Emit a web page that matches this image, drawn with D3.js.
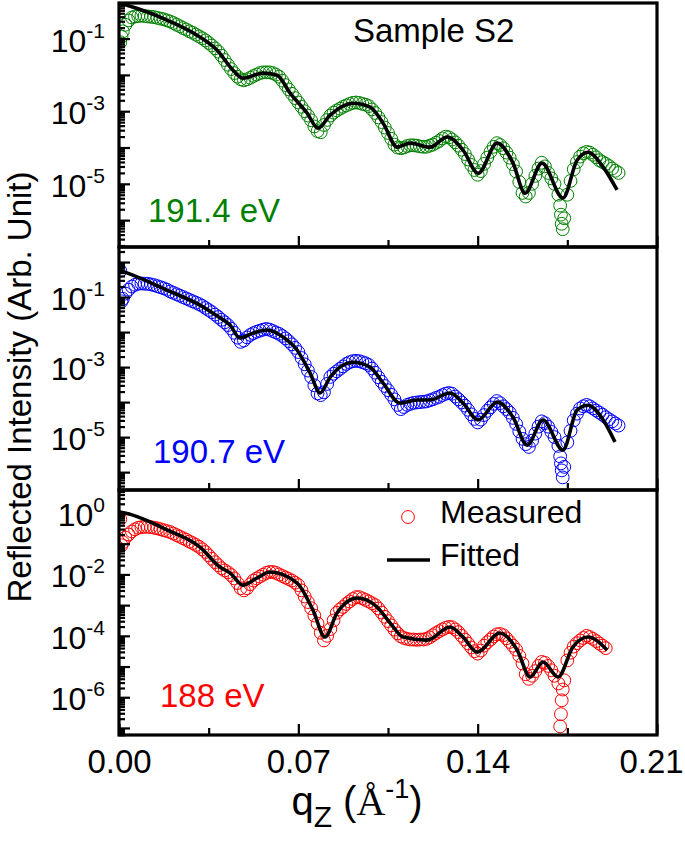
<!DOCTYPE html>
<html><head><meta charset="utf-8">
<script src="https://cdn.jsdelivr.net/npm/d3@7"></script>
<style>body{margin:0;background:#fff}svg{display:block}</style>
</head><body>
<svg id="c" width="685" height="843"></svg>
<script>
// ---------- DATA (intensities given as log10 values) ----------
const qMeasured = [0.0005,0.0010,0.0015,0.0025,0.0050,0.0075,0.0100,0.0125,0.0150,0.0175,
  0.0200,0.0225,0.0250,0.0275,0.0300,0.0325,0.0350,0.0375,0.0400,0.0425,
  0.0450,0.0475,0.0500,0.0525,0.0550,0.0575,0.0600,0.0625,0.0650,0.0675,
  0.0700,0.0725,0.0750,0.0775,0.0800,0.0825,0.0850,0.0875,0.0900,0.0925,
  0.0950,0.0975,0.1000,0.1025,0.1050,0.1075,0.1100,0.1125,0.1150,0.1175,
  0.1200,0.1225,0.1250,0.1275,0.1300,0.1325,0.1350,0.1375,0.1400,0.1425,
  0.1450,0.1475,0.1500,0.1525,0.1550,0.1575,0.1600,0.1625,0.1650,0.1675,
  0.1700,0.1715,0.1722,0.1725,0.1728,0.1732,0.1738,0.1750,0.1775,0.1800,
  0.1825,0.1850,0.1875,0.1900,0.1925,0.1950];

const measured1914 = [-1.10,-0.95,-0.80,-0.62,-0.42,-0.38,-0.38,-0.40,-0.43,-0.47,
  -0.53,-0.62,-0.71,-0.80,-0.89,-0.99,-1.12,-1.27,-1.47,-1.72,
  -1.95,-2.12,-2.12,-2.03,-1.95,-1.93,-1.95,-2.05,-2.28,-2.52,
  -2.76,-3.00,-3.25,-3.55,-3.38,-3.12,-2.98,-2.88,-2.80,-2.76,
  -2.80,-2.86,-3.05,-3.30,-3.60,-3.92,-4.02,-3.96,-3.94,-3.97,
  -3.98,-3.92,-3.82,-3.70,-3.78,-3.95,-4.18,-4.48,-4.75,-4.45,
  -4.12,-3.88,-4.02,-4.28,-4.66,-5.25,-5.25,-4.78,-4.42,-4.70,
  -5.00,-5.30,-5.60,-5.85,-6.10,-6.25,-5.95,-5.30,-4.60,-4.25,
  -4.12,-4.20,-4.35,-4.45,-4.58,-4.70];

const measured1907 = [-0.25,-1.12,-1.05,-0.90,-0.70,-0.62,-0.62,-0.64,-0.69,-0.75,
  -0.84,-0.92,-1.00,-1.08,-1.16,-1.25,-1.37,-1.50,-1.65,-1.80,
  -2.02,-2.28,-2.15,-2.03,-1.96,-1.91,-1.97,-2.05,-2.18,-2.35,
  -2.57,-2.92,-3.28,-3.75,-3.72,-3.28,-3.12,-2.98,-2.86,-2.82,
  -2.86,-2.94,-3.16,-3.42,-3.66,-3.92,-4.20,-4.08,-4.02,-4.00,
  -3.98,-3.92,-3.85,-3.76,-3.76,-3.92,-4.10,-4.35,-4.58,-4.37,
  -4.15,-3.97,-4.12,-4.30,-4.62,-5.05,-5.28,-4.90,-4.55,-4.70,
  -5.00,-5.25,-5.55,-5.75,-5.95,-6.15,-5.85,-5.15,-4.52,-4.18,
  -4.08,-4.18,-4.30,-4.43,-4.55,-4.67];

const measured188 = [-0.20,-1.05,-0.95,-0.80,-0.60,-0.48,-0.45,-0.46,-0.50,-0.56,
  -0.62,-0.72,-0.82,-0.93,-1.04,-1.18,-1.38,-1.60,-1.80,-1.93,
  -2.13,-2.45,-2.45,-2.20,-2.07,-1.95,-1.92,-2.00,-2.10,-2.20,
  -2.35,-2.72,-3.10,-3.60,-4.15,-3.78,-3.25,-3.06,-2.88,-2.74,
  -2.78,-2.88,-3.00,-3.24,-3.52,-3.80,-4.02,-4.10,-4.12,-4.12,
  -4.10,-3.98,-3.85,-3.74,-3.72,-3.88,-4.12,-4.38,-4.58,-4.32,
  -4.12,-3.95,-3.98,-4.20,-4.45,-4.90,-5.40,-5.15,-4.85,-4.98,
  -5.30,-5.55,-6.95,-6.55,-6.10,-5.75,-5.45,-4.80,-4.35,-4.15,
  -4.00,-4.10,-4.25,-4.40,null,null];

// second set of measured points, lying between the points above
const qMeasuredMid = [0.00375,0.00625,0.00875,0.01125,0.01375,0.01625,0.01875,0.02125,0.02375,0.02625,
  0.02875,0.03125,0.03375,0.03625,0.03875,0.04125,0.04375,0.04625,0.04875,0.05125,
  0.05375,0.05625,0.05875,0.06125,0.06375,0.06625,0.06875,0.07125,0.07375,0.07625,
  0.07875,0.08125,0.08375,0.08625,0.08875,0.09125,0.09375,0.09625,0.09875,0.10125,
  0.10375,0.10625,0.10875,0.11125,0.11375,0.11625,0.11875,0.12125,0.12375,0.12625,
  0.12875,0.13125,0.13375,0.13625,0.13875,0.14125,0.14375,0.14625,0.14875,0.15125,
  0.15375,0.15625,0.15875,0.16125,0.16375,0.16625,0.16875,0.17625,0.17875,0.18125,
  0.18375,0.18625,0.18875,0.19125,0.19375];

const measuredMid1914 = [-0.50,-0.39,-0.37,-0.39,-0.41,-0.45,-0.50,-0.57,-0.66,-0.75,
  -0.84,-0.94,-1.05,-1.19,-1.36,-1.59,-1.84,-2.05,-2.15,-2.08,
  -1.99,-1.93,-1.93,-1.99,-2.16,-2.40,-2.64,-2.88,-3.12,-3.42,
  -3.58,-3.24,-3.04,-2.93,-2.84,-2.77,-2.77,-2.82,-2.95,-3.17,
  -3.45,-3.76,-4.00,-4.00,-3.94,-3.95,-3.98,-3.95,-3.87,-3.75,
  -3.72,-3.86,-4.06,-4.33,-4.62,-4.65,-4.28,-3.98,-3.93,-4.14,
  -4.46,-4.95,-5.35,-5.00,-4.58,-4.52,-4.85,-4.92,-4.40,-4.16,
  -4.14,-4.27,-4.40,-4.51,-4.64];

const measuredMid1907 = [-0.79,-0.65,-0.61,-0.62,-0.66,-0.72,-0.79,-0.88,-0.96,-1.04,
  -1.12,-1.20,-1.31,-1.43,-1.57,-1.72,-1.90,-2.16,-2.24,-2.08,
  -1.99,-1.93,-1.93,-2.01,-2.11,-2.26,-2.45,-2.74,-3.10,-3.52,
  -3.80,-3.48,-3.19,-3.05,-2.91,-2.83,-2.83,-2.89,-3.04,-3.29,
  -3.54,-3.79,-4.08,-4.14,-4.05,-4.01,-3.99,-3.95,-3.88,-3.80,
  -3.74,-3.84,-4.01,-4.22,-4.48,-4.50,-4.25,-4.05,-4.03,-4.20,
  -4.45,-4.84,-5.20,-5.10,-4.70,-4.60,-4.85,-4.82,-4.33,-4.12,
  -4.12,-4.24,-4.36,-4.49,-4.61];

const measuredMid188 = [-0.70,-0.53,-0.46,-0.45,-0.48,-0.53,-0.59,-0.67,-0.77,-0.87,
  -0.98,-1.10,-1.27,-1.49,-1.70,-1.87,-2.02,-2.28,-2.52,-2.32,
  -2.13,-2.01,-1.92,-1.95,-2.05,-2.15,-2.27,-2.52,-2.90,-3.34,
  -3.90,-4.00,-3.50,-3.14,-2.96,-2.80,-2.74,-2.83,-2.94,-3.11,
  -3.38,-3.66,-3.92,-4.07,-4.12,-4.13,-4.12,-4.05,-3.91,-3.79,
  -3.71,-3.79,-4.00,-4.25,-4.50,-4.48,-4.21,-4.02,-3.94,-4.08,
  -4.32,-4.65,-5.25,-5.30,-4.98,-4.88,-5.12,-4.55,-4.24,-4.07,
  -4.04,-4.17,-4.32,null,null];

const fitQ1914 = [0,0.0031,0.0187,0.0316,0.0383,0.0445,0.0484,0.0562,0.0617,0.0668,0.0734,0.0777,0.0824,0.0914,0.0980,0.1031,0.1086,0.1136,0.1214,0.1281,0.1343,0.1402,0.1476,0.1538,0.1585,0.1651,0.1733,0.1788,0.1831,0.1890,0.1944];
const fit1914 = [-0.02,-0.08,-0.49,-0.96,-1.32,-1.87,-2.09,-1.95,-2.01,-2.50,-3.05,-3.47,-3.11,-2.78,-2.89,-3.33,-3.99,-3.88,-3.99,-3.71,-4.07,-4.71,-3.88,-4.43,-5.26,-4.43,-5.39,-4.35,-4.13,-4.54,-5.17];

const fitQ1907 = [0,0.0031,0.0187,0.0316,0.0383,0.0433,0.0472,0.0523,0.0578,0.0640,0.0695,0.0746,0.0785,0.0824,0.0914,0.0980,0.1031,0.1097,0.1163,0.1214,0.1292,0.1343,0.1402,0.1476,0.1538,0.1593,0.1655,0.1733,0.1788,0.1831,0.1890,0.1936];
const fit1907 = [-0.23,-0.31,-0.80,-1.23,-1.54,-1.80,-2.17,-2.03,-1.94,-2.14,-2.51,-3.17,-3.74,-3.29,-2.86,-3.00,-3.46,-4.03,-3.94,-3.94,-3.74,-4.03,-4.51,-4.00,-4.43,-5.23,-4.51,-5.37,-4.23,-4.09,-4.51,-5.14];

const fitQ188 = [0,0.0023,0.0187,0.0316,0.0394,0.0433,0.0484,0.0538,0.0589,0.0695,0.0757,0.0804,0.0851,0.0929,0.1007,0.1058,0.1109,0.1202,0.1292,0.1343,0.1398,0.1487,0.1554,0.1605,0.1655,0.1714,0.1772,0.1831,0.1905];
const fit188 = [0.03,0.00,-0.55,-1.11,-1.76,-1.95,-2.35,-2.12,-1.92,-2.28,-3.16,-4.04,-3.26,-2.77,-3.06,-3.58,-4.04,-4.14,-3.71,-4.04,-4.53,-3.91,-4.46,-5.34,-4.85,-5.34,-4.36,-4.04,-4.46];

const energyLabels = ["191.4 eV","190.7 eV","188 eV"];
const yTickExponents = [[-1,-3,-5],[-1,-3,-5],[0,-2,-4,-6]];
const xMajorTicks = [0,0.07,0.14,0.21];
const xMinorTicks = [0.035,0.105,0.175];
const yDomainsLog = [[-6.74,-0.02],[-6.51,0.43],[-7.23,0.75]];
const legendLabels = ["Measured","Fitted"];
const sampleTitle = "Sample S2";

// ---------- LAYOUT ----------
const svg = d3.select("#c");
const FONT = "'Liberation Sans', Arial, Helvetica, sans-serif";
const L = 119, R = 657;
const panelBounds = [[3,247],[247,490],[490,735]];
const colors = ["#008000","#0000ff","#ff0000"];
const labelPos = [[148,222],[153,463],[160,707]];
const measuredSets = [measured1914, measured1907, measured188];
const measuredMidSets = [measuredMid1914, measuredMid1907, measuredMid188];
const fitQs = [fitQ1914, fitQ1907, fitQ188];
const fits = [fit1914, fit1907, fit188];

const x = d3.scaleLinear().domain([0,0.21]).range([L,R]);

panelBounds.forEach(([top,bottom],i)=>{
  const dom = yDomainsLog[i];
  const y = d3.scaleLog().domain([Math.pow(10,dom[0]),Math.pow(10,dom[1])]).range([bottom,top]);
  const g = svg.append("g");
  const clipId = "clip"+i;
  svg.append("clipPath").attr("id",clipId).append("rect")
    .attr("x",L).attr("y",top).attr("width",R-L).attr("height",bottom-top);
  const plot = g.append("g").attr("clip-path",`url(#${clipId})`);

  // measured circles
  const pts = qMeasured.map((q,k)=>({q, v: measuredSets[i][k]}))
    .concat(qMeasuredMid.map((q,k)=>({q, v: measuredMidSets[i][k]})))
    .filter(d=>d.v!==null)
    .sort((a,b)=>a.q-b.q);
  plot.selectAll("circle").data(pts).enter().append("circle")
    .attr("cx",d=>x(d.q)).attr("cy",d=>y(Math.pow(10,d.v)))
    .attr("r",6.4).attr("fill","none").attr("stroke",colors[i]).attr("stroke-width",1);

  // fitted line
  const fitData = fitQs[i].map((q,k)=>({q, v: fits[i][k]}));
  plot.append("path").datum(fitData)
    .attr("d", d3.line().x(d=>x(d.q)).y(d=>y(Math.pow(10,d.v))).curve(d3.curveMonotoneX))
    .attr("fill","none").attr("stroke","#000").attr("stroke-width",3.6).attr("stroke-linejoin","round");

  // y ticks (inward)
  const lo = Math.floor(dom[0]), hi = Math.ceil(dom[1]);
  const majors = [], minors = [];
  for(let e=lo;e<=hi;e++){
    for(let m=1;m<=9;m++){
      const lv = e + Math.log10(m);
      if(lv < dom[0] || lv > dom[1]) continue;
      (m===1?majors:minors).push(m*Math.pow(10,e));
    }
  }
  const yMin = g.append("g").attr("transform",`translate(${L},0)`)
    .call(d3.axisLeft(y).tickValues(minors).tickSize(-6).tickFormat(""));
  const yMaj = g.append("g").attr("transform",`translate(${L},0)`)
    .call(d3.axisLeft(y).tickValues(majors).tickSize(-11).tickFormat(""));
  [yMin,yMaj].forEach(a=>{a.select(".domain").remove(); a.selectAll("line").attr("stroke","#000").attr("stroke-width",2.2);});

  // y tick labels
  yTickExponents[i].forEach(e=>{
    const yy = y(Math.pow(10,e));
    const t = g.append("text").attr("x",105).attr("y",yy+13).attr("text-anchor","end")
      .attr("font-family",FONT).attr("font-size",32).attr("fill","#000");
    t.append("tspan").text("10");
    t.append("tspan").attr("dy",-14).attr("font-size",21).text(String(e));
  });

  // x ticks (inward, at bottom of each panel)
  const xMin = g.append("g").attr("transform",`translate(0,${bottom})`)
    .call(d3.axisBottom(x).tickValues(xMinorTicks).tickSize(-7).tickFormat(""));
  const xMaj = g.append("g").attr("transform",`translate(0,${bottom})`)
    .call(d3.axisBottom(x).tickValues(xMajorTicks).tickSizeInner(-11).tickSizeOuter(0)
      .tickPadding(15).tickFormat(i===2 ? d3.format(".2f") : ""));
  [xMin,xMaj].forEach(a=>{a.select(".domain").remove(); a.selectAll("line").attr("stroke","#000").attr("stroke-width",2.2);});
  xMaj.selectAll("text").attr("font-family",FONT).attr("font-size",33).attr("fill","#000")
    .attr("dx",d=>d===0.21?-6:0);

  // frame
  g.append("rect").attr("x",L).attr("y",top).attr("width",R-L).attr("height",bottom-top)
    .attr("fill","none").attr("stroke","#000").attr("stroke-width",3.2);

  // energy label
  g.append("text").attr("x",labelPos[i][0]).attr("y",labelPos[i][1])
    .attr("font-family",FONT).attr("font-size",33).attr("fill",colors[i]).text(energyLabels[i]);
});

// sample title
svg.append("text").attr("x",353).attr("y",42).attr("font-family",FONT).attr("font-size",33)
  .attr("fill","#000").text(sampleTitle);

// legend
svg.append("circle").attr("cx",408).attr("cy",517).attr("r",6.4).attr("fill","none")
  .attr("stroke",colors[2]).attr("stroke-width",1);
svg.append("text").attr("x",440).attr("y",523).attr("font-family",FONT).attr("font-size",32).text(legendLabels[0]);
svg.append("line").attr("x1",387).attr("x2",430).attr("y1",560).attr("y2",560)
  .attr("stroke","#000").attr("stroke-width",3.6);
svg.append("text").attr("x",440).attr("y",566).attr("font-family",FONT).attr("font-size",32).text(legendLabels[1]);

// y axis title
svg.append("text").attr("transform","translate(31,387) rotate(-90)").attr("text-anchor","middle")
  .attr("font-family",FONT).attr("font-size",33).attr("fill","#000")
  .text("Reflected Intensity (Arb. Unit)");

// x axis title
const xt = svg.append("text").attr("x",357).attr("y",815).attr("text-anchor","middle")
  .attr("font-family",FONT).attr("font-size",40).attr("fill","#000");
xt.append("tspan").text("q");
xt.append("tspan").attr("dy",12).attr("font-size",30).text("Z");
xt.append("tspan").attr("dy",-12).text(" (");
xt.append("tspan").attr("font-family","'Liberation Serif', 'Times New Roman', serif").text("Å");
xt.append("tspan").attr("dy",-17).attr("font-size",27).text("-1");
xt.append("tspan").attr("dy",17).text(")");
</script>
</body></html>
